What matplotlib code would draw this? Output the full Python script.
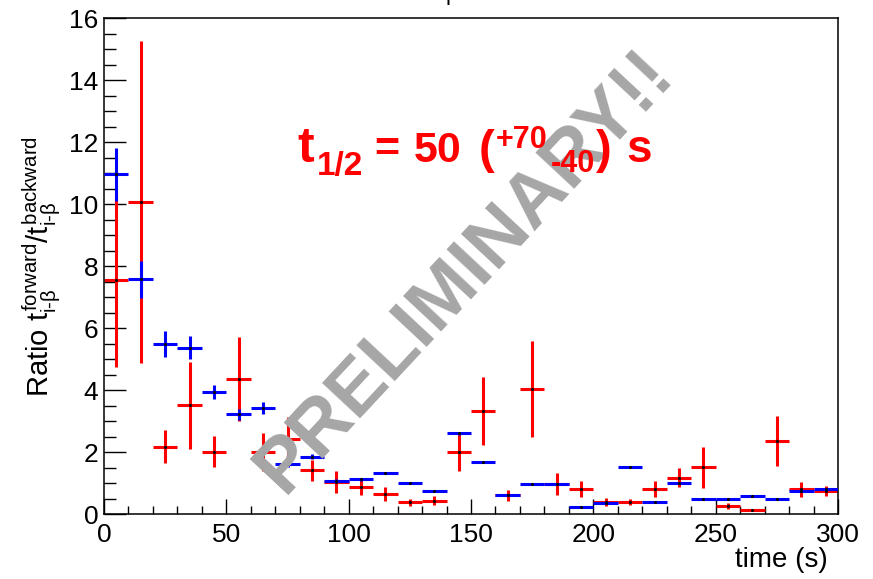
import matplotlib
matplotlib.use("Agg")
import matplotlib.pyplot as plt
from matplotlib.ticker import MultipleLocator

plt.rcParams['font.family'] = ['Liberation Sans', 'DejaVu Sans']
plt.rcParams['mathtext.fontset'] = 'custom'
plt.rcParams['mathtext.rm'] = 'Liberation Sans'
plt.rcParams['mathtext.it'] = 'Liberation Sans'
plt.rcParams['mathtext.bf'] = 'Liberation Sans:bold'

# bin centres (s), bins are 10 s wide
time_bins = [5, 15, 25, 35, 45, 55, 65, 75, 85, 95,
             105, 115, 125, 135, 145, 155, 165, 175, 185, 195,
             205, 215, 225, 235, 245, 255, 265, 275, 285, 295]
half_width = 5

blue_ratio = [10.97, 7.59, 5.50, 5.38, 3.94, 3.23, 3.43, 1.63, 1.87, 1.09,
              1.13, 1.35, 1.00, 0.75, 2.62, 1.69, 0.62, 0.99, 0.99, 0.23,
              0.38, 1.52, 0.40, 1.00, 0.49, 0.49, 0.59, 0.49, 0.76, 0.83]
blue_err = [0.85, 0.60, 0.41, 0.37, 0.23, 0.18, 0.20, 0.10, 0.08, 0.05,
            0.05, 0.03, 0.03, 0.03, 0.05, 0.03, 0.03, 0.02, 0.02, 0.02,
            0.02, 0.02, 0.02, 0.03, 0.02, 0.02, 0.02, 0.02, 0.03, 0.03]

red_ratio = [7.55, 10.07, 2.19, 3.52, 2.02, 4.37, 2.02, 2.43, 1.42, 1.05,
             0.88, 0.66, 0.39, 0.45, 2.03, 3.35, 0.62, 4.04, 0.99, 0.82,
             0.41, 0.40, 0.82, 1.19, 1.52, 0.28, 0.15, 2.38, 0.81, 0.76]
red_err = [2.80, 5.20, 0.52, 1.40, 0.50, 1.37, 0.61, 0.73, 0.35, 0.35,
           0.25, 0.22, 0.12, 0.14, 0.64, 1.10, 0.17, 1.55, 0.36, 0.25,
           0.12, 0.10, 0.26, 0.30, 0.67, 0.09, 0.03, 0.80, 0.23, 0.17]

W, H = 873, 579
fig = plt.figure(figsize=(W / 100, H / 100), dpi=100)
ax = fig.add_axes([0.1191, 0.1114, 0.8409, 0.8569])

ax.errorbar(time_bins, red_ratio, xerr=half_width, yerr=red_err, fmt='o',
            color='red', ecolor='red', elinewidth=2.2, capsize=0,
            ms=1.2, mfc='black', mec='black', zorder=2)
ax.errorbar(time_bins, blue_ratio, xerr=half_width, yerr=blue_err, fmt='o',
            color='blue', ecolor='blue', elinewidth=2.2, capsize=0,
            ms=1.2, mfc='black', mec='black', zorder=3)

ax.set_xlim(0, 300)
ax.set_ylim(0, 16)
ax.xaxis.set_major_locator(MultipleLocator(50))
ax.xaxis.set_minor_locator(MultipleLocator(10))
ax.yaxis.set_major_locator(MultipleLocator(2))
ax.yaxis.set_minor_locator(MultipleLocator(0.5))
ax.tick_params(axis='both', which='both', direction='in', top=False, right=False,
               labelsize=19, width=1)
ax.tick_params(axis='y', which='major', length=16, pad=4)
ax.tick_params(axis='y', which='minor', length=8.5)
ax.tick_params(axis='x', which='major', length=11, pad=6)
ax.tick_params(axis='x', which='minor', length=5.5)
for s in ax.spines.values():
    s.set_linewidth(1.1)

ax.set_xlabel('time (s)', fontsize=20, loc='right')
ax.xaxis.set_label_coords(0.986, -0.066)
ax.set_ylabel(r'Ratio $t^{\mathrm{forward}}_{\mathrm{i\text{-}β}}/t^{\mathrm{backward}}_{\mathrm{i\text{-}β}}$',
              fontsize=21, labelpad=4)

ax.text(0.493, 0.49, 'PRELIMINARY!!', transform=ax.transAxes, rotation=47,
        fontsize=55, fontweight='bold', color='#a6a6a6', ha='center', va='center',
        rotation_mode='anchor', zorder=4)

# half-life label, ROOT-style: super- and subscript follow each other
pieces = [('t', 297, 161.5, 36), ('1/2', 317, 175, 24), ('=', 374, 161.5, 31),
          ('50', 414, 161.5, 31), ('(', 479, 163, 34), ('+70', 496, 148, 22),
          ('-40', 551, 172, 22), (')', 596, 163, 34), ('s', 626, 161.5, 33)]
for txt, px, py, fs in pieces:
    fig.text(px / W, 1 - py / H, txt, color='red', fontsize=fs, fontweight='bold',
             ha='left', va='baseline', zorder=5)

fig.text(452 / W, 1.0, 'β', ha='center', va='baseline', fontsize=16)

fig.savefig('out.png', dpi=100)
